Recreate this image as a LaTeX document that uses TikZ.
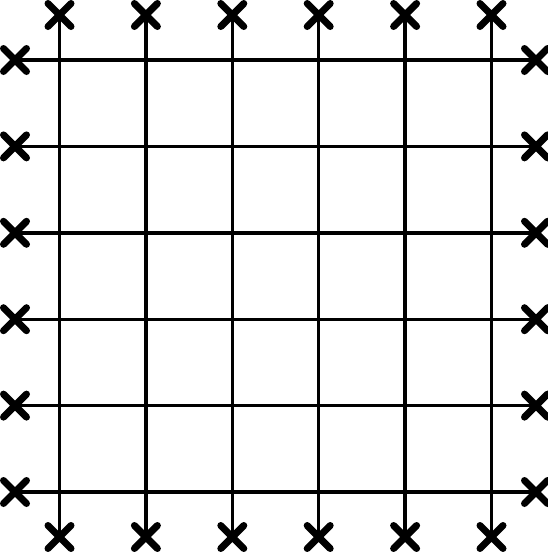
\documentclass[tikz,border=0pt]{standalone}
\usetikzlibrary{shapes.misc}
\tikzset{
  mark x/.style={cross out, draw=black, line width=7pt, minimum size=16pt, inner sep=0pt, line cap=round},
  gridline/.style={draw=black, line width=3.4pt}
}
\begin{document}
\begin{tikzpicture}[x=1pt,y=-1pt]
\useasboundingbox (0,0) rectangle (548,552);
\foreach \i in {1,...,6}{
  \pgfmathsetmacro{\p}{59.5+86.4*(\i-1)}
  \pgfmathsetmacro{\q}{60+86.4*(\i-1)}
  \coordinate (tc\i) at (\p,15);
  \coordinate (bc\i) at (\p,537);
  \coordinate (lc\i) at (15,\q);
  \coordinate (rc\i) at (536,\q);
}
\foreach \i in {1,...,6}{
  \draw[gridline] (tc\i) -- (bc\i);
  \draw[gridline] (lc\i) -- (rc\i);
}
\foreach \i in {1,...,6}{
  \node[mark x] (t\i) at (tc\i) {};
  \node[mark x] (b\i) at (bc\i) {};
  \node[mark x] (l\i) at (lc\i) {};
  \node[mark x] (r\i) at (rc\i) {};
}
\end{tikzpicture}
\end{document}
